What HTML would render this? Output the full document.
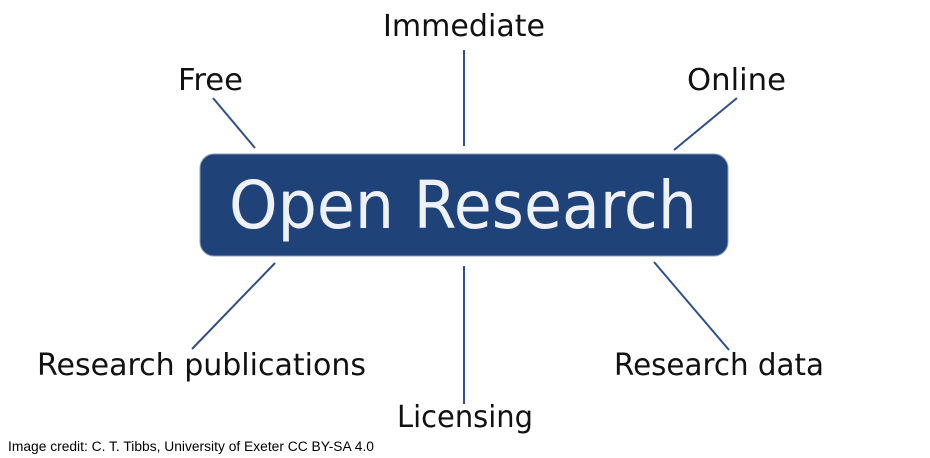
<!DOCTYPE html>
<html><head><meta charset="utf-8"><style>
html,body{margin:0;padding:0;background:#fff;}
svg{display:block;}
</style></head><body>
<svg width="930" height="458" viewBox="0 0 930 458" xmlns="http://www.w3.org/2000/svg">
<g stroke="#2f4f86" stroke-width="2" fill="none">
<line x1="213" y1="98" x2="255" y2="148"/>
<line x1="464" y1="50" x2="464" y2="146"/>
<line x1="737" y1="98" x2="674" y2="150"/>
<line x1="275" y1="263" x2="192" y2="349"/>
<line x1="464" y1="266" x2="464" y2="404"/>
<line x1="654" y1="262" x2="729" y2="350"/>
</g>
<rect x="200" y="154" width="528" height="102" rx="14" fill="#1f4279" stroke="#8a9cbb" stroke-width="1"/>
<text x="229" y="228" font-family="'DejaVu Sans','Liberation Sans',sans-serif" font-size="66" fill="#eef1f7" textLength="468" lengthAdjust="spacingAndGlyphs">Open Research</text>
<g font-family="'DejaVu Sans','Liberation Sans',sans-serif" font-size="30" fill="#111">
<text x="383" y="36" textLength="162" lengthAdjust="spacingAndGlyphs">Immediate</text>
<text x="178" y="90" textLength="65" lengthAdjust="spacingAndGlyphs">Free</text>
<text x="687" y="90" textLength="99" lengthAdjust="spacingAndGlyphs">Online</text>
<text x="37" y="375" textLength="329" lengthAdjust="spacingAndGlyphs">Research publications</text>
<text x="614" y="375" textLength="210" lengthAdjust="spacingAndGlyphs">Research data</text>
<text x="397" y="427" textLength="136" lengthAdjust="spacingAndGlyphs">Licensing</text>
</g>
<text x="8" y="451" font-family="'Liberation Sans',sans-serif" font-size="13.5" fill="#000" textLength="366" lengthAdjust="spacingAndGlyphs">Image credit: C. T. Tibbs, University of Exeter CC BY-SA 4.0</text>
</svg>
</body></html>
